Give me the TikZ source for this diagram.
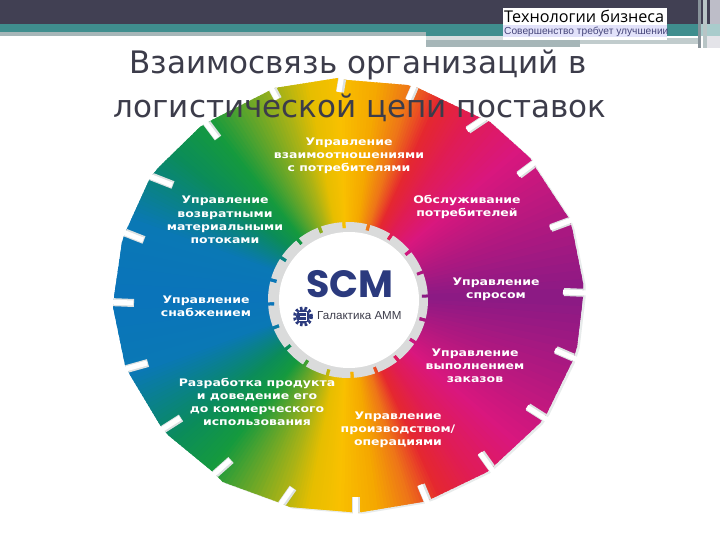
\documentclass[tikz,border=0pt]{standalone}
\usepackage{fontspec}
\setmainfont{DejaVu Sans}
\newfontfamily\labelfont{DejaVu Sans}[FakeStretch=1.2]
\newfontfamily\logofont{Liberation Sans}
\newfontfamily\scmfont{Poppins}
\newfontfamily\brandfont{Open Sans}
\definecolor{barDark}{HTML}{414053}
\definecolor{barTeal}{HTML}{3F8E8E}
\definecolor{barGrey}{HTML}{A6B6B8}
\definecolor{barSide}{HTML}{BDBDC8}
\definecolor{titleInk}{HTML}{3C3C4A}
\definecolor{scmBlue}{HTML}{2B3A7E}
\definecolor{ringGrey}{HTML}{DADBDB}
\definecolor{slotEdge}{HTML}{DDE2E2}
\definecolor{mottoInk}{HTML}{45457A}
\definecolor{mottoBack}{HTML}{E2E2FA}
\tikzset{
  wheeltext/.style={text=white,font=\labelfont\bfseries\fontsize{10.4}{13.2}\selectfont,align=center,inner sep=0pt},
  titletext/.style={text=titleInk,font=\fontsize{31}{44}\selectfont,inner sep=0pt,anchor=base},
  slotedge/.style={draw=slotEdge,line width=8pt},
  slotcut/.style={draw=white,line width=5pt}
}
\newcommand{\hueband}[4]{%
  \foreach \t in {0,0.1,...,0.95}{%
    \pgfmathsetmacro{\aa}{#1+(#2-#1)*\t}%
    \pgfmathsetmacro{\ab}{\aa+(#2-#1)*0.16}%
    \pgfmathsetmacro{\pc}{\t*100}%
    \fill[#4!\pc!#3] (348,297) -- ({348+320*cos(\aa)},{297-320*sin(\aa)}) -- ({348+320*cos(\ab)},{297-320*sin(\ab)}) -- cycle;
    \fill[#4!\pc!#3] (348,297) -- ({348+320*cos(\aa)},{297+320*sin(\aa)}) -- ({348+320*cos(\ab)},{297+320*sin(\ab)}) -- cycle;
  }}
\definecolor{h0}{HTML}{8C1A84}
\definecolor{h1}{HTML}{B5187F}
\definecolor{h2}{HTML}{D9177E}
\definecolor{h3}{HTML}{E01C55}
\definecolor{h4}{HTML}{E5282F}
\definecolor{h5}{HTML}{EE7518}
\definecolor{h6}{HTML}{F5A800}
\definecolor{h7}{HTML}{F9C000}
\definecolor{h8}{HTML}{E6BE00}
\definecolor{h9}{HTML}{A6B217}
\definecolor{h10}{HTML}{5FA52B}
\definecolor{h11}{HTML}{159A3E}
\definecolor{h12}{HTML}{0B8C5A}
\definecolor{h13}{HTML}{0A8286}
\definecolor{h14}{HTML}{0A78B5}
\definecolor{h15}{HTML}{0A73BB}
\newcommand{\wheelhues}{%
  \hueband{0}{22}{h0}{h1}\hueband{22}{40}{h1}{h2}\hueband{40}{55}{h2}{h3}%
  \hueband{55}{65}{h3}{h4}\hueband{65}{73}{h4}{h5}\hueband{73}{82}{h5}{h6}%
  \hueband{82}{92}{h6}{h7}\hueband{92}{100}{h7}{h8}\hueband{100}{108}{h8}{h9}%
  \hueband{108}{118}{h9}{h10}\hueband{118}{128}{h10}{h11}\hueband{128}{140}{h11}{h12}%
  \hueband{140}{150}{h12}{h13}\hueband{150}{160}{h13}{h14}\hueband{160}{181}{h14}{h15}}
\newcommand{\wheeloutline}{(338,78) -- (347,80) -- (407,85) -- (418,88) -- (485,120) -- (490,122) -- (530,158) -- (535,167) -- (568,217) -- (572,228) -- (583,283) -- (583,297) -- (577,347) -- (572,362) -- (547,413) -- (540,423) -- (497,463) -- (487,472) -- (433,498) -- (422,502) -- (362,512) -- (350,512) -- (290,507) -- (278,502) -- (223,482) -- (213,472) -- (168,435) -- (160,425) -- (130,375) -- (125,365) -- (113,307) -- (115,290) -- (122,242) -- (125,233) -- (150,178) -- (158,168) -- (200,127) -- (212,120) -- (265,93) -- (275,88) -- cycle}
\begin{document}
\begin{tikzpicture}[x=1pt,y=-1pt]
\useasboundingbox (0,0) rectangle (720,540);
\fill[white] (0,0) rectangle (720,540);
% wheel shadow and wheel
\fill[slotEdge!70!white] [shift={(2.5,1.5)}] \wheeloutline;
\begin{scope}
\clip \wheeloutline;
\wheelhues
\foreach \ox/\oy/\ix/\iy in {342/74/339/92,270/86/277/99,205/122/217/138,149/176/172/185,120/231/143/240,108/302/133/303,122/370/147/363,158/432/180/418,212/476/230/460,278/508/292/488,355/517/355/497,430/509/420/485,495/474/480/453,549/421/527/407,578/360/555/350,588/293/563/292,577/218/550/228,538/160/518/175,488/116/467/130,415/84/408/100}{
  \draw[slotedge] (\ox+1,\oy) -- (\ix+1,\iy);
}
\end{scope}
\foreach \ox/\oy/\ix/\iy in {342/74/339/92,270/86/277/99,205/122/217/138,149/176/172/185,120/231/143/240,108/302/133/303,122/370/147/363,158/432/180/418,212/476/230/460,278/508/292/488,355/517/355/497,430/509/420/485,495/474/480/453,549/421/527/407,578/360/555/350,588/293/563/292,577/218/550/228,538/160/518/175,488/116/467/130,415/84/408/100}{
  \draw[slotcut] (\ox,\oy) -- (\ix,\iy);
}
% inner ring
\fill[ringGrey] (348,300) ellipse [x radius=80,y radius=78];
\begin{scope}
\clip \foreach \k in {0,...,19}{
  ({348+74*cos(3+18*\k)-1.5*sin(3+18*\k)},{300-72*sin(3+18*\k)-1.5*cos(3+18*\k)}) --
  ({348+84*cos(3+18*\k)-1.5*sin(3+18*\k)},{300-82*sin(3+18*\k)-1.5*cos(3+18*\k)}) --
  ({348+84*cos(3+18*\k)+1.5*sin(3+18*\k)},{300-82*sin(3+18*\k)+1.5*cos(3+18*\k)}) --
  ({348+74*cos(3+18*\k)+1.5*sin(3+18*\k)},{300-72*sin(3+18*\k)+1.5*cos(3+18*\k)}) -- cycle
};
\wheelhues
\end{scope}
\fill[white] (349,300) ellipse [x radius=70,y radius=68];
% centre
\node[text=scmBlue,font=\scmfont\bfseries\fontsize{38}{38}\selectfont,inner sep=0pt] (scm) at (350,284) {SCM};
\node[text=titleInk,font=\logofont\fontsize{11.6}{13}\selectfont,inner sep=0pt,anchor=west] (gal) at (317,316) {Галактика АММ};
\node[circle,draw=scmBlue,line width=3pt,dash pattern=on 2.6pt off 2pt,minimum size=17pt,inner sep=0pt,outer sep=0pt] (gear) at (303,316.5) {};
\node[circle,fill=scmBlue,minimum size=14pt,inner sep=0pt] (gearhub) at (303,316.5) {};
\draw[white,line width=1.3pt] (299,312.5) -- (306.5,312.5) -- (306.5,320.5) -- (299,320.5);
\draw[white,line width=1.3pt] (300,316.5) -- (306,316.5);
% labels
\node[wheeltext] (l1) at (349,156) {Управление\\взаимоотношениями\\с потребителями};
\node[wheeltext] (l2) at (467,207) {Обслуживание\\потребителей};
\node[wheeltext] (l3) at (496,289) {Управление\\спросом};
\node[wheeltext] (l4) at (475,366) {Управление\\выполнением\\заказов};
\node[wheeltext] (l5) at (398,430) {Управление\\производством/\\операциями};
\node[wheeltext] (l6) at (257,402) {Разработка продукта\\и доведение его\\до коммерческого\\использования};
\node[wheeltext] (l7) at (206,306) {Управление\\снабжением};
\node[wheeltext] (l8) at (225,220) {Управление\\возвратными\\материальными\\потоками};
% title
\node[titletext] (t1) at (358,74) {Взаимосвязь организаций в};
\node[titletext] (t2) at (360,118) {логистической цепи поставок};
% header bars
\fill[barDark] (0,0) rectangle (710,24);
\fill[barTeal] (0,24) rectangle (426,32);
\fill[barGrey] (0,32) rectangle (426,36);
\fill[barTeal] (426,24) rectangle (700,36);
\fill[barTeal!45!white] (700,24) rectangle (720,36);
\fill[barSide] (710,0) rectangle (720,24);
\fill[barGrey!45!white] (426,36) rectangle (580,40);
\fill[barGrey] (426,40) rectangle (580,47);
\fill[barGrey!70!white] (580,38) rectangle (700,44);
\fill[barGrey!70!barDark] (698,0) rectangle (701,48);
\fill[barGrey!80!white] (703,0) rectangle (707,48);
\fill[barSide!40!white] (707,36) rectangle (720,48);
% logo
\fill[white] (503,8) rectangle (667,40);
\fill[mottoBack] (503,25) rectangle (667,37);
\node[inner sep=0pt,anchor=base west,text=black,font=\brandfont\fontsize{16.2}{18}\selectfont] (brand) at (504,23) {Технологии бизнеса};
\node[inner sep=0pt,anchor=base west,text=mottoInk,font=\logofont\fontsize{10.2}{11}\selectfont] (motto) at (504,34.5) {Совершенство требует улучшении};
\end{tikzpicture}
\end{document}
